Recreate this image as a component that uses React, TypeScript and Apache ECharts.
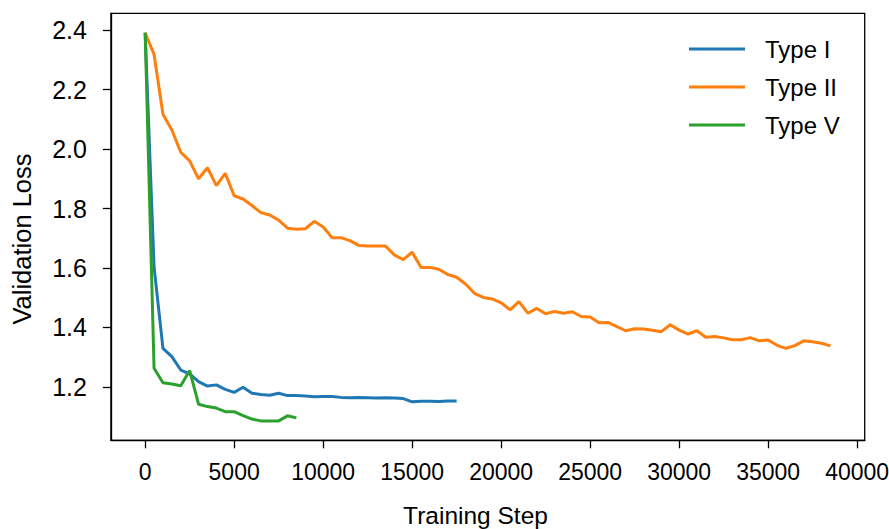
import React, { useEffect, useRef } from "react";
import * as echarts from "echarts";

// Evaluation every 500 training steps
const EVAL_INTERVAL = 500;

const typeIValues = [
  2.391, 1.604, 1.33, 1.302, 1.257, 1.244, 1.218, 1.203, 1.207, 1.192, 1.182, 1.199,
  1.179, 1.175, 1.172, 1.179, 1.171, 1.171, 1.17, 1.167, 1.168, 1.168, 1.165, 1.164,
  1.165, 1.164, 1.163, 1.164, 1.163, 1.161, 1.15, 1.152, 1.152, 1.151, 1.153, 1.153,
];

const typeIIValues = [
  2.391, 2.318, 2.117, 2.064, 1.989, 1.96, 1.9, 1.937, 1.877, 1.918, 1.843, 1.832,
  1.81, 1.786, 1.778, 1.761, 1.734, 1.73, 1.732, 1.757, 1.738, 1.702, 1.702, 1.692,
  1.676, 1.674, 1.674, 1.674, 1.644, 1.628, 1.653, 1.602, 1.602, 1.596, 1.578, 1.569,
  1.546, 1.515, 1.501, 1.496, 1.483, 1.459, 1.487, 1.448, 1.464, 1.446, 1.454, 1.448,
  1.453, 1.437, 1.435, 1.416, 1.417, 1.403, 1.389, 1.396, 1.395, 1.391, 1.386, 1.409,
  1.391, 1.378, 1.389, 1.367, 1.37, 1.365, 1.359, 1.359, 1.366, 1.355, 1.358, 1.34,
  1.33, 1.339, 1.355, 1.352, 1.347, 1.338,
];

const typeVValues = [
  2.391, 1.263, 1.214, 1.21, 1.204, 1.255, 1.142, 1.134, 1.129, 1.117, 1.117, 1.104,
  1.092, 1.086, 1.086, 1.086, 1.103, 1.096,
];

const xTicks = [0, 5000, 10000, 15000, 20000, 25000, 30000, 35000, 40000];
const yTicks = [1.2, 1.4, 1.6, 1.8, 2.0, 2.2, 2.4];

const seriesNames = ["Type I", "Type II", "Type V"];
const seriesColors = ["#1f77b4", "#ff7f0e", "#2ca02c"];

const FONT = "'Liberation Sans', Arial, Helvetica, sans-serif";

function toPairs(values: number[]) {
  return values.map((v, i) => [i * EVAL_INTERVAL, v]);
}

export default function App() {
  const ref = useRef<HTMLDivElement>(null);

  useEffect(() => {
    if (!ref.current) return;
    const chart = echarts.init(ref.current, undefined, { renderer: "svg" });
    const allSeries = [typeIValues, typeIIValues, typeVValues];

    chart.setOption({
      animation: false,
      backgroundColor: "#ffffff",
      textStyle: { fontFamily: FONT },
      grid: {
        left: 110.9,
        top: 13.3,
        width: 753.8,
        height: 427,
        show: true,
        borderColor: "#000",
        borderWidth: 1.3,
        backgroundColor: "transparent",
        containLabel: false,
        outerBoundsMode: "none",
      },
      xAxis: {
        type: "value",
        min: -1925,
        max: 40425,
        splitLine: { show: false },
        axisLine: { show: true, onZero: false, lineStyle: { color: "#000", width: 1.3 } },
        axisTick: {
          show: true,
          length: 8,
          lineStyle: { color: "#000", width: 1.3 },
          customValues: xTicks,
        },
        axisLabel: {
          color: "#000",
          fontSize: 23,
          fontFamily: FONT,
          margin: 20,
          customValues: xTicks,
          formatter: (v: number) => String(v),
        },
      },
      yAxis: {
        type: "value",
        min: 1.0207,
        max: 2.4563,
        splitLine: { show: false },
        axisLine: { show: true, onZero: false, lineStyle: { color: "#000", width: 1.3 } },
        axisTick: {
          show: true,
          length: 8,
          lineStyle: { color: "#000", width: 1.3 },
          customValues: yTicks,
        },
        axisLabel: {
          color: "#000",
          fontSize: 25,
          fontFamily: FONT,
          margin: 24,
          customValues: yTicks,
          formatter: (v: number) => v.toFixed(1),
        },
      },
      legend: {
        data: seriesNames,
        orient: "vertical",
        left: 684,
        top: 32,
        icon: "rect",
        itemWidth: 56,
        itemHeight: 3,
        itemGap: 14,
        textStyle: {
          color: "#000",
          fontSize: 24,
          fontFamily: FONT,
          padding: [0, 0, 0, 15],
        },
      },
      graphic: [
        {
          type: "text",
          x: 475.5,
          y: 515,
          style: {
            text: "Training Step",
            fill: "#000",
            font: `24.5px ${FONT}`,
            align: "center",
            verticalAlign: "middle",
          },
        },
        {
          type: "text",
          x: 22,
          y: 239,
          rotation: Math.PI / 2,
          style: {
            text: "Validation Loss",
            fill: "#000",
            font: `25.5px ${FONT}`,
            align: "center",
            verticalAlign: "middle",
          },
        },
      ],
      series: allSeries.map((vals, i) => ({
        name: seriesNames[i],
        type: "line",
        data: toPairs(vals),
        showSymbol: false,
        symbol: "none",
        color: seriesColors[i],
        lineStyle: { color: seriesColors[i], width: 3 },
        z: 2 + i,
      })),
    });

    return () => chart.dispose();
  }, []);

  return (
    <div
      ref={ref}
      style={{ position: "fixed", left: 0, top: 0, width: 889, height: 529 }}
    />
  );
}
